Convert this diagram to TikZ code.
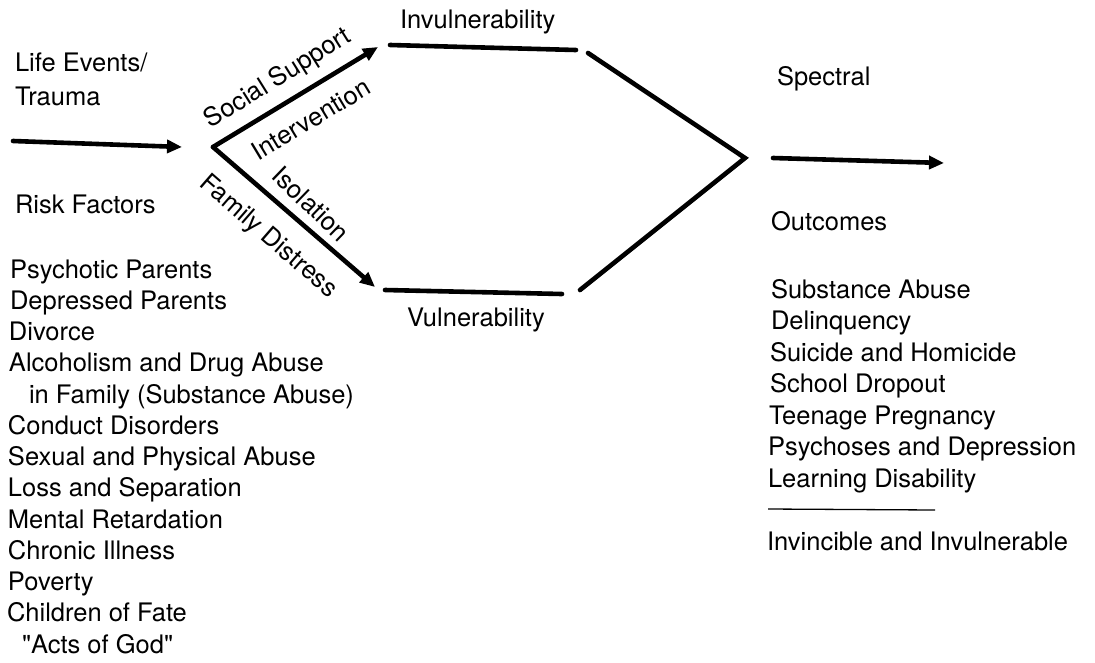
\documentclass[tikz,border=0pt]{standalone}
\usepackage{fontspec}
\setmainfont{TeX Gyre Heros}[Ligatures=TeXOff]
\usetikzlibrary{arrows.meta}

\begin{document}
\begin{tikzpicture}[x=1pt,y=-1pt,
  txt/.style={inner sep=0pt,outer sep=0pt,font=\fontsize{25.5}{31}\selectfont},
  item/.style={txt,anchor=base west},
  slant/.style={txt,anchor=center},
  bar/.style={line width=4.6pt,line cap=round,line join=miter},
  flow/.style={bar,-{Triangle[length=15pt,width=13pt]}},
  rule/.style={line width=1.3pt}
]
\useasboundingbox (0,0) rectangle (1095,662);

% ---- left column: triggers and risk factors
\node[item] (life)   at (15,71)  {Life Events/};
\node[item] (trauma) at (15,105) {Trauma};
\node[item] (risk)   at (15,213) {Risk Factors};

\node[item] (r1)  at (10,278)    {Psychotic Parents};
\node[item] (r2)  at (10,309.25) {Depressed Parents};
\node[item] (r3)  at (9,340.5)   {Divorce};
\node[item] (r4)  at (9,371.75)  {Alcoholism and Drug Abuse};
\node[item] (r5)  at (29,403)    {in Family (Substance Abuse)};
\node[item] (r6)  at (8,434.25)  {Conduct Disorders};
\node[item] (r7)  at (8,465.5)   {Sexual and Physical Abuse};
\node[item] (r8)  at (8,496.75)  {Loss and Separation};
\node[item] (r9)  at (8,528)     {Mental Retardation};
\node[item] (r10) at (8,559.25)  {Chronic Illness};
\node[item] (r11) at (8,590.5)   {Poverty};
\node[item] (r12) at (7,621.75)  {Children of Fate};
\node[item] (r13) at (22,653)    {"Acts of God"};

% ---- junction points of the flow lines
\coordinate (la) at (13,141);
\coordinate (lb) at (182,147);
\coordinate (v)  at (213,147);
\coordinate (up) at (378,47);
\coordinate (dn) at (375,287);
\coordinate (i1) at (390,45);
\coordinate (i2) at (576,50);
\coordinate (u1) at (385,290);
\coordinate (u2) at (562,294);
\coordinate (c1) at (588,53);
\coordinate (rv) at (745,158);
\coordinate (c2) at (580,290);
\coordinate (ra) at (773,158);
\coordinate (rb) at (944,163);
\coordinate (d1) at (768,509);
\coordinate (d2) at (935,510);

% ---- arrows and branches
\draw[flow] (la) -- (lb);
\draw[flow] (v) -- (up);
\draw[flow] (v) -- (dn);
\draw[bar] (i1) -- (i2);
\draw[bar] (u1) -- (u2);
\draw[bar] (c1) -- (rv) -- (c2);
\draw[flow] (ra) -- (rb);
\draw[rule] (d1) -- (d2);

% ---- labels along the branches
\node[slant,rotate=32]  (soc) at (278,79)  {Social Support};
\node[slant,rotate=31]  (int) at (311,119) {Intervention};
\node[slant,rotate=-44] (iso) at (311,204) {Isolation};
\node[slant,rotate=-41] (fam) at (268,237) {Family Distress};

\node[item] (invul) at (400,28)  {Invulnerability};
\node[item] (vul)   at (407,326) {Vulnerability};

% ---- right column: outcomes
\node[item] (spec) at (777,85)  {Spectral};
\node[item] (outc) at (771,230) {Outcomes};

\node[item] (o1) at (771,298)   {Substance Abuse};
\node[item] (o2) at (771,329.5) {Delinquency};
\node[item] (o3) at (770,361)   {Suicide and Homicide};
\node[item] (o4) at (770,392.5) {School Dropout};
\node[item] (o5) at (769,424)   {Teenage Pregnancy};
\node[item] (o6) at (768,455.5) {Psychoses and Depression};
\node[item] (o7) at (768,487)   {Learning Disability};
\node[item] (o8) at (767,550)   {Invincible and Invulnerable};
\end{tikzpicture}
\end{document}
